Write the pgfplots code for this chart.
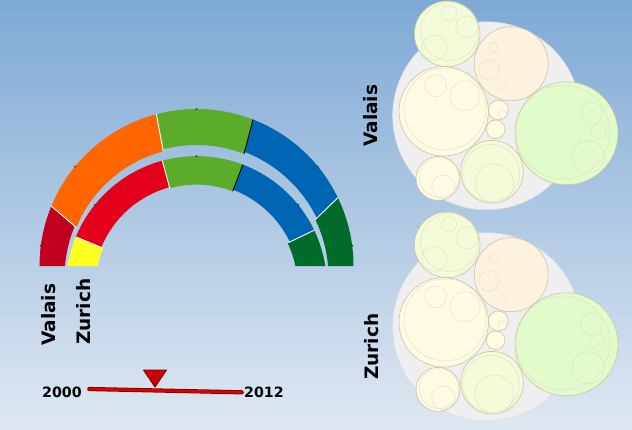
\documentclass[border=0pt]{standalone}
\usepackage{fontspec}
\setmainfont{DejaVu Sans}
\usepackage{pgfplots}
\usepackage{pgfplotstable}
\pgfplotsset{compat=1.18}
\usetikzlibrary{calc}

\definecolor{bgtop}{HTML}{7EA9D5}
\definecolor{bgbot}{HTML}{DFE8F2}
\definecolor{cDarkRed}{HTML}{C0001E}
\definecolor{cOrange}{HTML}{FF6600}
\definecolor{cGreen}{HTML}{5AAC2A}
\definecolor{cBlue}{HTML}{0066B3}
\definecolor{cDkGreen}{HTML}{006B2B}
\definecolor{cRed}{HTML}{E2001A}
\definecolor{cYellow}{HTML}{FFFF22}
\definecolor{bGray}{HTML}{EFEFEF}
\definecolor{bGrayEdge}{HTML}{E0E0E0}
\definecolor{bA}{HTML}{F4FBD8}
\definecolor{bB}{HTML}{FDF2DF}
\definecolor{bC}{HTML}{FFFBE3}
\definecolor{bD}{HTML}{E1FBCB}
\definecolor{bEdge}{HTML}{C8C4A4}
\definecolor{bInner}{HTML}{DFDCC8}
\definecolor{bTxt}{HTML}{7A7A66}
\definecolor{tlRed}{HTML}{DD0000}
\definecolor{tlDark}{HTML}{7A0000}

% ring segment: color, cy outer, R outer, cy inner, R inner, a1, a2 (outer), b1, b2 (inner)
\newcommand{\seg}[9]{%
  \fill[#1] ($(axis cs:196.5,#2)+(#6:#3pt)$) arc[start angle=#6,end angle=#7,radius=#3pt]
    -- ($(axis cs:196.5,#4)+(#8:#5pt)$) arc[start angle=#8,end angle=#9,radius=#5pt] -- cycle;}
% separator: color, cy outer, R outer, cy inner, R inner, angle
\newcommand{\sep}[6]{%
  \draw[#1, line width=0.9pt] ($(axis cs:196.5,#2)+(#6:#3pt)$) -- ($(axis cs:196.5,#4)+(#6:#5pt)$);}

% bubble layout (image pixel coordinates, y downward)
\pgfplotstableread{
x y r
486.7 115.8 94
}\tblGray
\pgfplotstableread{
x y r
447.2 33.8 32.8
492.0 171.7 31.3
}\tblA
\pgfplotstableread{
x y r
511.2 63.7 37
}\tblB
\pgfplotstableread{
x y r
443.7 111.3 44.7
498.3 110.0 10
495.7 129.3 9.3
438.0 178.3 22
}\tblC
\pgfplotstableread{
x y r
566.5 133.3 51.5
}\tblD
\pgfplotstableread{
x y r
449.0 13.3 7.7
466.7 26.7 11
434.3 47.7 12.7
449.5 31.5 29
493.7 47.3 5
489.0 70.0 10.3
502.7 86.7 3
435.7 85.7 11
465.0 95.7 15
445.0 109.0 41
591.7 113.3 11
598.3 131.7 7.7
588.3 156.7 16
563.0 132.0 47
502.7 114.3 4.3
494.3 183.3 19.3
491.0 173.0 28.5
443.3 186.7 11.7
439.0 177.5 20
}\tblInner

\pgfplotsset{
  bub/.style 2 args={scatter, only marks, mark=*,
    scatter/use mapped color={draw=#1, fill=#2},
    visualization depends on={\thisrow{r} \as \rr},
    scatter/@pre marker code/.append style={/tikz/mark size=\rr pt},
    mark options={line width=0.6pt}},
  bubo/.style={scatter, only marks, mark=o,
    scatter/use mapped color={draw=bInner},
    visualization depends on={\thisrow{r} \as \rr},
    scatter/@pre marker code/.append style={/tikz/mark size=\rr pt},
    mark options={line width=0.4pt}},
}

\begin{document}
\begin{tikzpicture}
\begin{axis}[x=1pt, y=1pt, y dir=reverse, xmin=0, xmax=632, ymin=0, ymax=429,
  hide axis, clip=false]
\shade[top color=bgtop, bottom color=bgbot] (axis cs:0,0) rectangle (axis cs:632,429);

% ---- Valais ring (outer)
\seg{cDarkRed}{266}{157}{277}{132}{180}{157.6}{157.6}{175.22}
\seg{cOrange}{266}{157}{277}{130}{157.6}{104.8}{104.8}{157.6}
\seg{cGreen}{266}{157}{277}{132}{104.8}{68.9}{68.9}{104.8}
\seg{cBlue}{266}{157}{277}{134}{68.9}{25.8}{25.8}{68.9}
\seg{cDkGreen}{266}{157}{277}{132}{25.8}{0}{4.78}{25.8}
\sep{white}{266}{157}{277}{130}{157.6}
\sep{white}{266}{157}{277}{130}{104.8}
\sep{black}{266}{157}{277}{132}{68.9}
\sep{white}{266}{157}{277}{132}{25.8}

% ---- Zurich ring (inner)
\seg{cYellow}{286.6}{130.5}{286.6}{101}{170.92}{157.6}{157.6}{168.23}
\seg{cRed}{286.6}{130.5}{286.6}{103}{157.6}{105.2}{105.2}{157.6}
\seg{cGreen}{286.6}{130.5}{286.6}{102}{105.2}{69.2}{69.2}{105.2}
\seg{cBlue}{286.6}{130.5}{286.6}{103.5}{69.2}{25.6}{25.6}{69.2}
\seg{cDkGreen}{286.6}{130.5}{286.6}{101}{25.6}{9.08}{11.77}{25.6}
\sep{white}{286.6}{130.5}{286.6}{101}{157.6}
\sep{white}{286.6}{130.5}{286.6}{102}{105.2}
\sep{black}{286.6}{130.5}{286.6}{102}{69.2}
\sep{white}{286.6}{130.5}{286.6}{102}{25.6}

\addplot[only marks, mark=*, mark size=0.8pt, black!75] coordinates {
(40.8,245.8) (75.0,166.6) (196.5,109) (318.0,166.6) (352.2,245.8)
(94.8,204.8) (196.5,156.1) (298.1,204.6)};

% ---- labels
\node[rotate=90, anchor=base west, inner sep=0pt, font=\fontsize{18.5}{18.5}\selectfont\bfseries] at (axis cs:55,346) {Valais};
\node[rotate=90, anchor=base west, inner sep=0pt, font=\fontsize{18.5}{18.5}\selectfont\bfseries] at (axis cs:90,345) {Zurich};
\node[rotate=90, anchor=base west, inner sep=0pt, font=\fontsize{18.5}{18.5}\selectfont\bfseries] at (axis cs:377,147) {Valais};
\node[rotate=90, anchor=base west, inner sep=0pt, font=\fontsize{18.5}{18.5}\selectfont\bfseries] at (axis cs:378,380) {Zurich};

% ---- timeline
\addplot[draw=tlDark, line width=4.2pt, line cap=round] coordinates {(89.3,389) (241.7,392.3)};
\addplot[draw=tlRed, line width=2.6pt, line cap=round] coordinates {(89.3,389) (241.7,392.3)};
\addplot[fill=tlRed!90!black, draw=tlDark, line width=0.6pt, line join=round] coordinates {(143.3,370) (166.7,370) (155,387.3) (143.3,370)};
\node[anchor=base west, inner sep=0pt, font=\fontsize{14.2}{14.2}\selectfont\bfseries] at (axis cs:42,397.5) {2000};
\node[anchor=base west, inner sep=0pt, font=\fontsize{14.2}{14.2}\selectfont\bfseries] at (axis cs:244,397.5) {2012};

% ---- bubble charts (Valais top, Zurich bottom)
\addplot[bub={bGrayEdge}{bGray}] table[x=x,y=y] {\tblGray};
\addplot[bub={bEdge}{bA}] table[x=x,y=y] {\tblA};
\addplot[bub={bEdge}{bB}] table[x=x,y=y] {\tblB};
\addplot[bub={bEdge}{bC}] table[x=x,y=y] {\tblC};
\addplot[bub={bEdge}{bD}] table[x=x,y=y] {\tblD};
\addplot[bubo] table[x=x,y=y] {\tblInner};

\addplot[bub={bGrayEdge}{bGray}] table[x=x,y expr=\thisrow{y}+211] {\tblGray};
\addplot[bub={bEdge}{bA}] table[x=x,y expr=\thisrow{y}+211] {\tblA};
\addplot[bub={bEdge}{bB}] table[x=x,y expr=\thisrow{y}+211] {\tblB};
\addplot[bub={bEdge}{bC}] table[x=x,y expr=\thisrow{y}+211] {\tblC};
\addplot[bub={bEdge}{bD}] table[x=x,y expr=\thisrow{y}+211] {\tblD};
\addplot[bubo] table[x=x,y expr=\thisrow{y}+211] {\tblInner};

% tiny circle labels
\foreach \dy in {0,211} {
  \edef\tmp{\noexpand\node[font=\noexpand\fontsize{2.6}{2.6}\noexpand\selectfont, text=bTxt, rotate=-75] at (axis cs:421,{24+\dy}) {ZUGANGSART};}\tmp
  \edef\tmp{\noexpand\node[font=\noexpand\fontsize{2.6}{2.6}\noexpand\selectfont, text=bTxt, rotate=52] at (axis cs:489,{45+\dy}) {AUSBILDUNGSFORM UND -STUFE};}\tmp
  \edef\tmp{\noexpand\node[font=\noexpand\fontsize{2.6}{2.6}\noexpand\selectfont, text=bTxt, rotate=-82] at (axis cs:403,{104+\dy}) {SCHULART};}\tmp
  \edef\tmp{\noexpand\node[font=\noexpand\fontsize{2.6}{2.6}\noexpand\selectfont, text=bTxt, rotate=82] at (axis cs:518.5,{124+\dy}) {SOZIALART};}\tmp
  \edef\tmp{\noexpand\node[font=\noexpand\fontsize{2.6}{2.6}\noexpand\selectfont, text=bTxt, rotate=30] at (axis cs:484,{154+\dy}) {ALTERS- UND GESCHLECHTSKLASSE};}\tmp
  \edef\tmp{\noexpand\node[font=\noexpand\fontsize{2.6}{2.6}\noexpand\selectfont, text=bTxt, rotate=70] at (axis cs:421.5,{169+\dy}) {SPRACHE};}\tmp
}
\end{axis}
\end{tikzpicture}
\end{document}
